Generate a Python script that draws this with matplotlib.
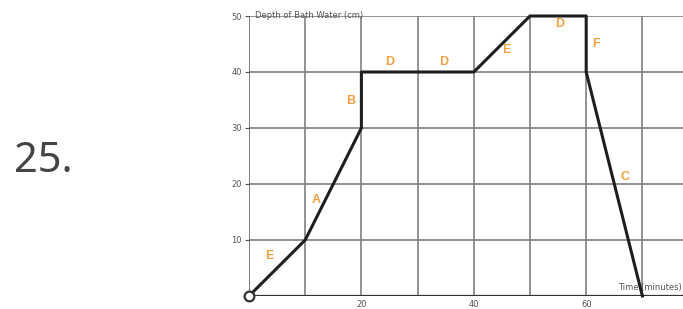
import matplotlib
matplotlib.use("Agg")
import matplotlib.pyplot as plt

time_min = [0, 10, 20, 20, 40, 50, 60, 60, 70]
depth_cm = [0, 10, 30, 40, 40, 50, 50, 40, 0]
seg_labels = ["E", "A", "B", "D", "D", "E", "D", "F", "C"]
label_x = [3.7, 11.9, 18.1, 25.1, 34.7, 45.7, 55.2, 61.7, 66.9]
label_y = [7.1, 17.1, 34.8, 41.8, 41.8, 43.9, 48.6, 45.0, 21.3]
x_ticks = [20, 40, 60]
y_ticks = [10, 20, 30, 40, 50]

fig = plt.figure(figsize=(6.83, 3.09), dpi=100)
fig.text(0.020, 0.479, "25.", fontsize=30, color="#444444", va="center", ha="left",
         family=["Noto Sans", "DejaVu Sans"])

ax = fig.add_axes([249/683, 1 - 296/309, 1 - 249/683, (296 - 16)/309])
ax.set_xlim(0, (683 - 249) / 5.62)
ax.set_ylim(0, 50)

for gx in range(10, 80, 10):
    ax.axvline(gx, color="#808080", lw=1.2, zorder=1)
for gy in y_ticks:
    ax.axhline(gy, color="#808080", lw=1.2, zorder=1)
ax.axvline(0, color="#666666", lw=1.2, zorder=1)
ax.axhline(0, color="#333333", lw=1.6, zorder=2)

for s in ax.spines.values():
    s.set_visible(False)

ax.plot(time_min, depth_cm, color="#1e1e1e", lw=2.2, zorder=3, clip_on=False)
ax.plot([0], [0], marker="o", ms=7, mfc="white", mec="#333333", mew=1.6, zorder=4, clip_on=False)

for t, xx, yy in zip(seg_labels, label_x, label_y):
    ax.text(xx, yy, t, color="#f5a040", fontsize=9, ha="center", va="center", zorder=5,
            family=["Liberation Sans", "DejaVu Sans"], fontweight="bold")

ax.set_xticks(x_ticks)
ax.set_yticks(y_ticks)
ax.tick_params(axis="both", labelsize=6, colors="#555555", length=3, width=0.8, pad=2)
ax.tick_params(axis="x", length=0, pad=3)

ax.text(1.0, 50, "Depth of Bath Water (cm)", fontsize=6, color="#555555", va="center", ha="left")
ax.text(77.0, 1.6, "Time (minutes)", fontsize=6, color="#555555", va="center", ha="right")

fig.savefig("out.png", dpi=100)
